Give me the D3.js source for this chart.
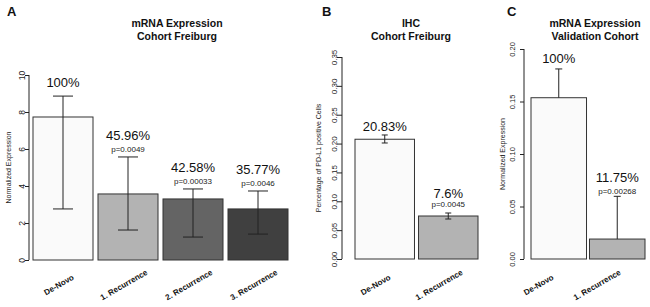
<!DOCTYPE html>
<html>
<head>
<meta charset="utf-8">
<script src="https://cdn.jsdelivr.net/npm/d3@7"></script>
<style>
  body { margin: 0; background: #fff; }
  svg { font-family: "Liberation Sans", Arial, sans-serif; }
</style>
</head>
<body>
<svg width="650" height="307"></svg>
<script>
// panel A - mRNA Expression, Cohort Freiburg
const catsA = ['De-Novo', '1. Recurrence', '2. Recurrence', '3. Recurrence'];
const valsA = [7.73, 3.57, 3.30, 2.76];
const hiA = [8.86, 5.57, 3.84, 3.73];
const loA = [2.76, 1.62, 1.24, 1.40];
const pctA = ['100%', '45.96%', '42.58%', '35.77%'];
const pA = ['', 'p=0.0049', 'p=0.00033', 'p=0.0046'];
const ticksA = [0, 2, 4, 6, 8, 10];

// panel B - IHC, Cohort Freiburg
const catsB = ['De-Novo', '1. Recurrence'];
const valsB = [0.2075, 0.0745];
const hiB = [0.2149, 0.0797];
const loB = [0.2010, 0.0693];
const pctB = ['20.83%', '7.6%'];
const pB = ['', 'p=0.0045'];
const ticksB = [0, 0.05, 0.10, 0.15, 0.20, 0.25, 0.30, 0.35];

// panel C - mRNA Expression, Validation Cohort
const catsC = ['De-Novo', '1. Recurrence'];
const valsC = [0.1536, 0.019];
const hiC = [0.181, 0.0597];
const loC = [null, null];
const pctC = ['100%', '11.75%'];
const pC = ['', 'p=0.00268'];
const ticksC = [0, 0.05, 0.10, 0.15, 0.20];

const fills = ['#fafafa', '#b3b3b3', '#646464', '#404040'];

const svg = d3.select('svg');

const drawPanel = opt => {
    const g = svg.append('g');

    const x = d3.scaleBand()
        .domain(opt.cats)
        .range(opt.xRange)
        .paddingInner(opt.pad);

    const y = d3.scaleLinear()
        .domain([0, d3.max(opt.ticks)])
        .range(opt.yRange);

    // y axis, R style: line spans the ticks only, labels turned
    const yAxis = d3.axisLeft(y)
        .tickValues(opt.ticks)
        .tickFormat(opt.fmt)
        .tickSize(opt.tickLen);

    const yAxisG = g.append('g')
        .attr('transform', `translate(${opt.axisX},0)`)
        .call(yAxis);
    yAxisG.select('.domain').remove();
    yAxisG.append('line')
        .attr('y1', y(0)).attr('y2', y(d3.max(opt.ticks)))
        .attr('stroke', '#222');
    yAxisG.selectAll('.tick line').attr('stroke', '#222');
    yAxisG.selectAll('.tick text')
        .attr('fill', '#222')
        .style('font-size', opt.tickFont + 'px')
        .attr('text-anchor', 'middle')
        .attr('dy', 0)
        .attr('x', 0)
        .attr('y', 0)
        .attr('transform', `translate(${-opt.labelOff},0) rotate(-90)`);

    g.append('text')
        .attr('transform', `translate(${opt.yLabelX},${(y(0) + y(d3.max(opt.ticks))) / 2}) rotate(-90)`)
        .attr('text-anchor', 'middle')
        .attr('dominant-baseline', 'central')
        .style('font-size', '7px')
        .attr('fill', '#222')
        .text(opt.yLabel);

    const data = opt.cats.map((c, i) => ({
        c, v: opt.vals[i], hi: opt.hi[i], lo: opt.lo[i], pct: opt.pct[i], p: opt.p[i], fill: fills[i]
    }));

    g.selectAll('rect.bar').data(data)
        .enter().append('rect')
        .attr('class', 'bar')
        .attr('x', d => x(d.c))
        .attr('width', x.bandwidth())
        .attr('y', d => y(d.v))
        .attr('height', d => y(0) - y(d.v))
        .attr('fill', d => d.fill)
        .attr('stroke', '#333')
        .attr('stroke-width', 1);

    // error bars
    const cx = d => x(d.c) + x.bandwidth() / 2;
    const cap = opt.cap / 2;
    const eb = g.selectAll('g.err').data(data).enter().append('g')
        .attr('stroke', '#222').attr('stroke-width', 1);
    eb.append('line')
        .attr('x1', cx).attr('x2', cx)
        .attr('y1', d => y(d.hi))
        .attr('y2', d => d.lo === null ? y(d.v) : y(d.lo));
    eb.append('line')
        .attr('x1', d => cx(d) - cap).attr('x2', d => cx(d) + cap)
        .attr('y1', d => y(d.hi)).attr('y2', d => y(d.hi));
    eb.filter(d => d.lo !== null).append('line')
        .attr('x1', d => cx(d) - cap).attr('x2', d => cx(d) + cap)
        .attr('y1', d => y(d.lo)).attr('y2', d => y(d.lo));

    // percent and p labels
    g.selectAll('text.pct').data(data).enter().append('text')
        .attr('x', cx)
        .attr('y', d => y(d.hi) - (d.p ? opt.gapP : opt.gap))
        .attr('text-anchor', 'middle')
        .style('font-size', '13px')
        .attr('fill', '#111')
        .text(d => d.pct);
    g.selectAll('text.pv').data(data.filter(d => d.p)).enter().append('text')
        .attr('x', cx)
        .attr('y', d => y(d.hi) - opt.pGap)
        .attr('text-anchor', 'middle')
        .style('font-size', '8px')
        .attr('fill', '#222')
        .text(d => d.p);

    // category labels, rotated 30 degrees
    g.selectAll('text.cat').data(data).enter().append('text')
        .attr('transform', d => `translate(${cx(d) + opt.catOff},285) rotate(-30)`)
        .attr('text-anchor', 'middle')
        .attr('dominant-baseline', 'central')
        .style('font-size', '8px')
        .style('font-weight', 'bold')
        .attr('fill', '#111')
        .text(d => d.c);

    // title and panel letter
    opt.title.forEach((t, i) => {
        g.append('text')
            .attr('x', opt.titleX)
            .attr('y', 27 + i * 12.5)
            .attr('text-anchor', 'middle')
            .style('font-size', '10.5px')
            .style('font-weight', 'bold')
            .attr('fill', '#111')
            .text(t);
    });
    g.append('text')
        .attr('x', opt.letterX)
        .attr('y', 16)
        .style('font-size', '13px')
        .style('font-weight', 'bold')
        .attr('fill', '#111')
        .text(opt.letter);
};

drawPanel({
    cats: catsA, vals: valsA, hi: hiA, lo: loA, pct: pctA, p: pA, ticks: ticksA,
    fmt: d3.format('d'), xRange: [33, 288], pad: 5 / 65, yRange: [260, 75],
    axisX: 29, tickLen: 4, labelOff: 4.5, tickFont: 8.5,
    yLabel: 'Normalized Expression', yLabelX: 8,
    cap: 20, gap: 9, gapP: 16.5, pGap: 5, catOff: -4,
    title: ['mRNA Expression', 'Cohort Freiburg'], titleX: 177, letter: 'A', letterX: 7
});

drawPanel({
    cats: catsB, vals: valsB, hi: hiB, lo: loB, pct: pctB, p: pB, ticks: ticksB,
    fmt: d3.format('.2f'), xRange: [355, 478], pad: 4 / 63, yRange: [259, 57],
    axisX: 342, tickLen: 5, labelOff: 5.5, tickFont: 8,
    yLabel: 'Percentage of PD-L1 positive Cells', yLabelX: 318,
    cap: 6, gap: 4, gapP: 15, pGap: 6, catOff: -9,
    title: ['IHC', 'Cohort Freiburg'], titleX: 411, letter: 'B', letterX: 322
});

drawPanel({
    cats: catsC, vals: valsC, hi: hiC, lo: loC, pct: pctC, p: pC, ticks: ticksC,
    fmt: d3.format('.2f'), xRange: [531, 645], pad: 3 / 59, yRange: [259, 49],
    axisX: 524, tickLen: 4, labelOff: 9, tickFont: 7.5,
    yLabel: 'Normalized Expression', yLabelX: 502,
    cap: 7, gap: 6, gapP: 14, pGap: 2.5, catOff: -20,
    title: ['mRNA Expression', 'Validation Cohort'], titleX: 595, letter: 'C', letterX: 507
});
</script>
</body>
</html>
